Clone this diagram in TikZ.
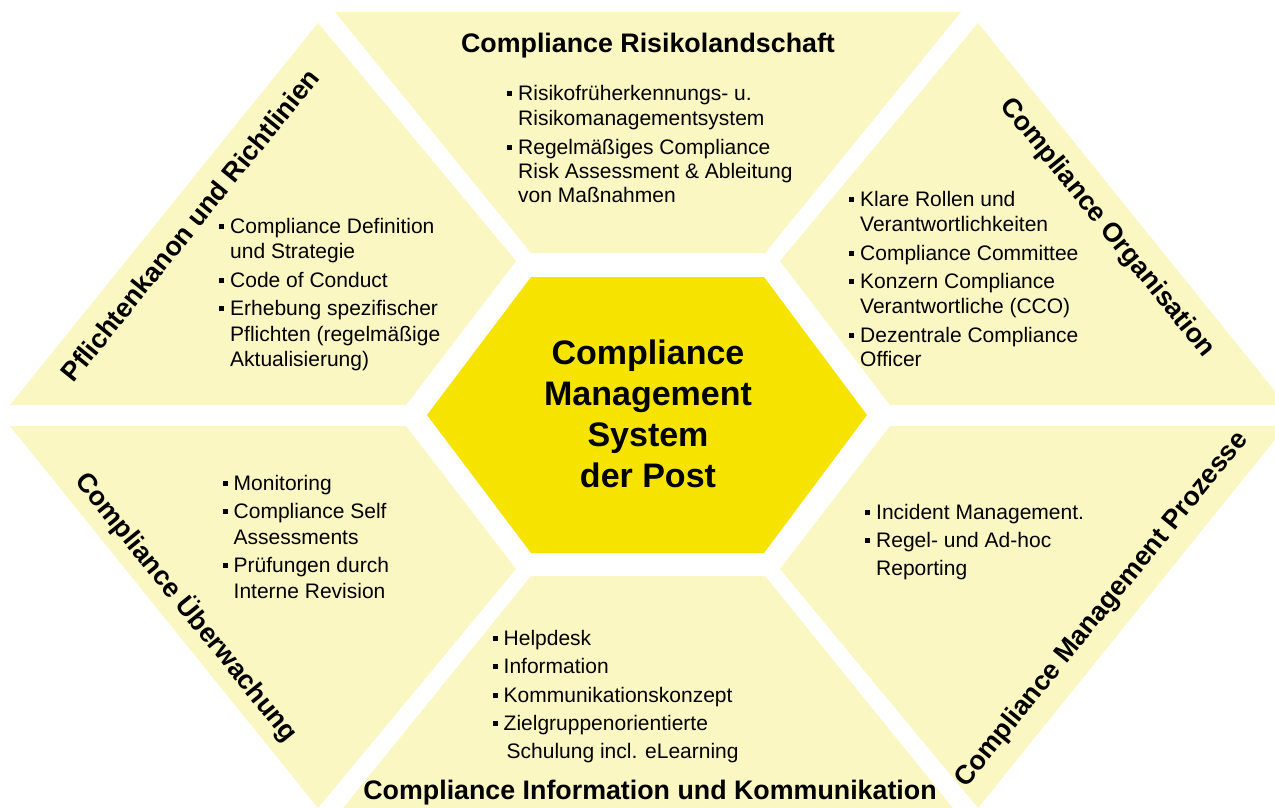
\documentclass[tikz,border=0pt]{standalone}
\usepackage{fontspec}
\setmainfont{Liberation Sans}

\definecolor{pale}{RGB}{251,247,194}
\definecolor{core}{RGB}{246,228,0}

% square bullet and list lines
\newcommand\blt{\makebox[11pt][l]{\rule[4.5pt]{5pt}{5pt}}}
\newcommand\itm[1]{\hbox{\blt#1}}
\newcommand\cnt[1]{\hbox{\hspace*{11pt}#1}}
% #1 = line distance, #2 = extra space between items, #3 = lines
\newcommand\bullist[3]{\vtop{\baselineskip=#1pt\relax\def\gap{\vskip#2pt\relax}#3}}

\tikzset{
  seg/.style={fill=pale},
  hub/.style={fill=core},
  title/.style={font=\bfseries\fontsize{26.8}{30}\selectfont, inner sep=0pt},
  lst/.style={font=\fontsize{21}{25}\selectfont, anchor=base west, inner sep=0pt},
  hubtext/.style={font=\bfseries\fontsize{34}{41}\selectfont, align=center, inner sep=0pt}
}

\begin{document}
\begin{tikzpicture}[x=1pt,y=-1pt]
\useasboundingbox (0,0) rectangle (1275,807);
\fill[white] (0,0) rectangle (1275,807);

\begin{scope}
\clip (0,0) rectangle (1275,807);
% six outer segments
\fill[seg] (335,12) -- (961,12) -- (765,253) -- (531,253) -- cycle;
\fill[seg] (318,23) -- (516,261) -- (406,405) -- (10,405) -- cycle;
\fill[seg] (978,23) -- (780,261) -- (890,405) -- (1286,405) -- cycle;
\fill[seg] (10,426) -- (406,426) -- (516,569) -- (318,808) -- cycle;
\fill[seg] (531,576) -- (765,576) -- (961,818) -- (335,818) -- cycle;
\fill[seg] (890,426) -- (1286,426) -- (978,808) -- (780,569) -- cycle;
% central hexagon
\fill[hub] (531,277) -- (764,277) -- (867,415) -- (764,553) -- (531,553) -- (427,415) -- cycle;
\end{scope}

\node[hubtext] (hub) at (648,414) {Compliance\\Management\\System\\der Post};

% segment titles
\node[title, anchor=base] (tRisk) at (648,52) {Compliance Risikolandschaft};
\node[title, anchor=base] (tComm) at (650,799) {Compliance Information und Kommunikation};
\node[title, rotate=51] (tDuty) at (190,225) {Pflichtenkanon und Richtlinien};
\node[title, rotate=-51] (tOrg) at (1107,228) {Compliance Organisation};
\node[title, rotate=-51] (tMon) at (187,607) {Compliance Überwachung};
\node[title, rotate=51] (tProc) at (1102,610) {Compliance Management Prozesse};

% bullet lists
\node[lst] (lRisk) at (507,100.7) {\bullist{24.3}{4.7}{%
  \itm{Risikofrüherkennungs- u.}\cnt{Risikomanagementsystem}\gap
  \itm{Regelmäßiges Compliance}\cnt{Risk Assessment \& Ableitung}\cnt{von Maßnahmen}}};

\node[lst] (lDuty) at (219,233.3) {\bullist{25.5}{3}{%
  \itm{Compliance Definition}\cnt{und Strategie}\gap
  \itm{Code of Conduct}\gap
  \itm{Erhebung spezifischer}\cnt{Pflichten (regelmäßige}\cnt{Aktualisierung)}}};

\node[lst] (lOrg) at (849,206.7) {\bullist{24.7}{4}{%
  \itm{Klare Rollen und}\cnt{Verantwortlichkeiten}\gap
  \itm{Compliance Committee}\gap
  \itm{Konzern Compliance}\cnt{Verantwortliche (CCO)}\gap
  \itm{Dezentrale Compliance}\cnt{Officer}}};

\node[lst] (lMon) at (222.5,490.7) {\bullist{26}{2}{%
  \itm{Monitoring}\gap
  \itm{Compliance Self}\cnt{Assessments}\gap
  \itm{Prüfungen durch}\cnt{Interne Revision}}};

\node[lst] (lComm) at (492.5,645.7) {\bullist{28.2}{0}{%
  \itm{Helpdesk}\itm{Information}\itm{Kommunikationskonzept}
  \itm{Zielgruppenorientierte}\hbox{\hspace*{14pt}Schulung incl. eLearning}}};

\node[lst] (lProc) at (865,519.5) {\bullist{27.8}{0}{%
  \itm{Incident Management.}\itm{Regel- und Ad-hoc}\cnt{Reporting}}};
\end{tikzpicture}
\end{document}
